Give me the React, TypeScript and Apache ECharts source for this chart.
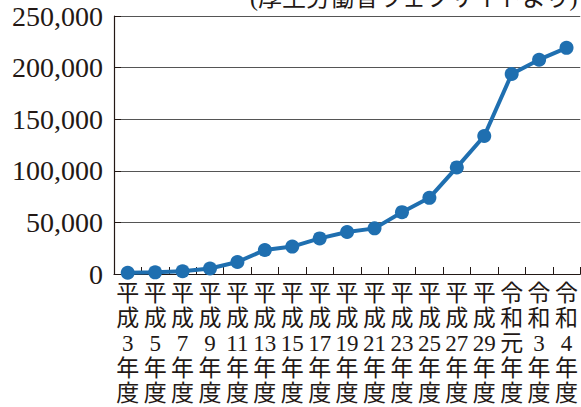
import React, { useEffect, useRef } from "react";
import * as echarts from "echarts";

const categories = [
  "平\n成\n3\n年\n度",
  "平\n成\n5\n年\n度",
  "平\n成\n7\n年\n度",
  "平\n成\n9\n年\n度",
  "平\n成\n11\n年\n度",
  "平\n成\n13\n年\n度",
  "平\n成\n15\n年\n度",
  "平\n成\n17\n年\n度",
  "平\n成\n19\n年\n度",
  "平\n成\n21\n年\n度",
  "平\n成\n23\n年\n度",
  "平\n成\n25\n年\n度",
  "平\n成\n27\n年\n度",
  "平\n成\n29\n年\n度",
  "令\n和\n元\n年\n度",
  "令\n和\n3\n年\n度",
  "令\n和\n4\n年\n度",
];

const values = [
  1171, 1611, 2722, 5352, 11631, 23274, 26569, 34472, 40639, 44211, 59919,
  73802, 103286, 133778, 193780, 207660, 219170,
];

const yMin = 0;
const yMax = 250000;
const yInterval = 50000;

const sourceNote = "(厚生労働省ウェブサイトより)";

const FONT = "'Liberation Serif', 'Noto Sans CJK JP', serif";
const TEXT = "#231815";

export default function App() {
  const ref = useRef<HTMLDivElement>(null);
  useEffect(() => {
    if (!ref.current) return;
    const chart = echarts.init(ref.current, undefined, { renderer: "svg" });
    chart.setOption({
      animation: false,
      backgroundColor: "#ffffff",
      grid: { left: 114, top: 16, right: 0, bottom: 133, containLabel: false },
      xAxis: {
        type: "category",
        data: categories,
        boundaryGap: true,
        axisLine: { show: true, lineStyle: { color: TEXT, width: 1.2 } },
        axisTick: { show: true, inside: true, length: 7, lineStyle: { color: TEXT, width: 1 } },
        axisLabel: {
          interval: 0,
          margin: 7,
          color: TEXT,
          fontFamily: FONT,
          fontSize: 23,
          lineHeight: 25,
        },
      },
      yAxis: {
        type: "value",
        min: yMin,
        max: yMax,
        interval: yInterval,
        axisLine: { show: true, lineStyle: { color: TEXT, width: 1.2 } },
        axisTick: { show: true, inside: true, length: 7, lineStyle: { color: TEXT } },
        splitLine: { show: true, lineStyle: { color: "#555555", width: 1 } },
        axisLabel: {
          margin: 11,
          color: TEXT,
          fontFamily: FONT,
          fontSize: 28,
          formatter: (v: number) => v.toLocaleString("en-US"),
        },
      },
      graphic: [
        {
          type: "text",
          right: 3,
          top: -14,
          style: {
            text: sourceNote,
            fill: TEXT,
            font: `24px ${FONT}`,
          },
        },
      ],
      series: [
        {
          type: "line",
          data: values,
          symbol: "circle",
          symbolSize: 14,
          itemStyle: { color: "#1f6fb0" },
          lineStyle: { color: "#1f6fb0", width: 4 },
        },
      ],
    });
    return () => chart.dispose();
  }, []);
  return (
    <div
      ref={ref}
      style={{ position: "fixed", left: 0, top: 0, width: 581, height: 407 }}
    />
  );
}
